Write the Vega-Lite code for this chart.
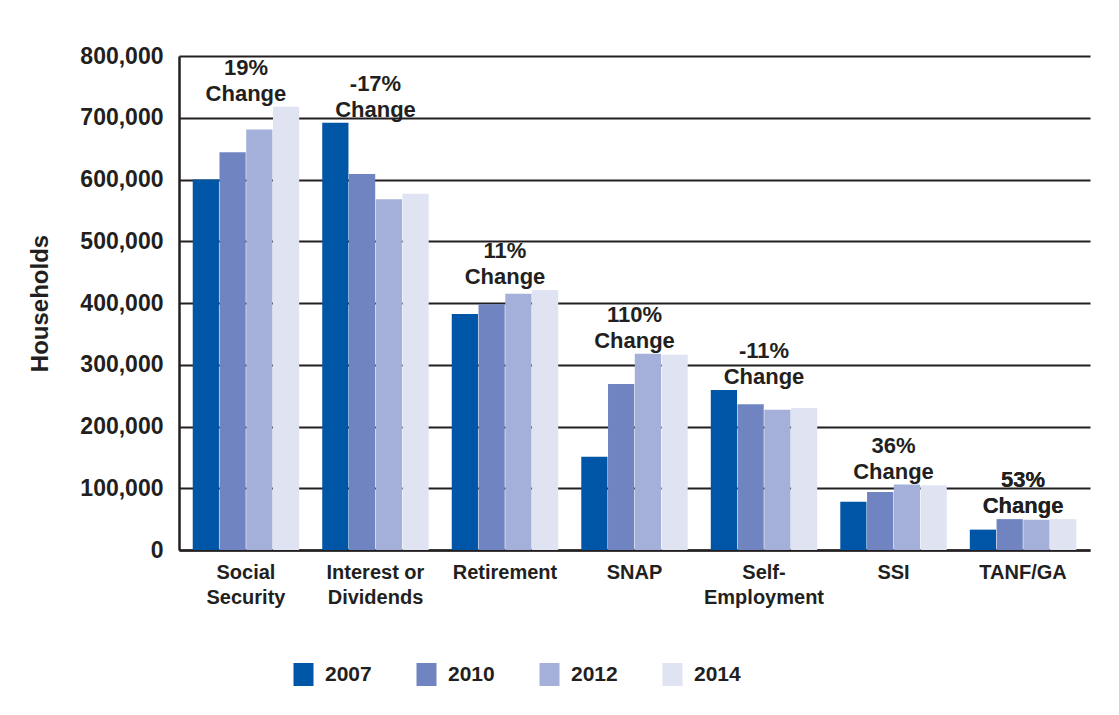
{
  "$schema": "https://vega.github.io/schema/vega-lite/v6.json",
  "width": 911,
  "height": 494,
  "autosize": {"type": "none"},
  "padding": {"left": 179, "top": 56, "right": 29, "bottom": 165},
  "background": "white",
  "config": {
    "font": "Liberation Sans",
    "view": {"stroke": null},
    "text": {"font": "Liberation Sans"}
  },
  "datasets": {
    "bars": [
      {"category": "Social Security", "year": "2007", "value": 600000},
      {"category": "Social Security", "year": "2010", "value": 644000},
      {"category": "Social Security", "year": "2012", "value": 681000},
      {"category": "Social Security", "year": "2014", "value": 718000},
      {"category": "Interest or Dividends", "year": "2007", "value": 692000},
      {"category": "Interest or Dividends", "year": "2010", "value": 609000},
      {"category": "Interest or Dividends", "year": "2012", "value": 568000},
      {"category": "Interest or Dividends", "year": "2014", "value": 577000},
      {"category": "Retirement", "year": "2007", "value": 382000},
      {"category": "Retirement", "year": "2010", "value": 398000},
      {"category": "Retirement", "year": "2012", "value": 415000},
      {"category": "Retirement", "year": "2014", "value": 421000},
      {"category": "SNAP", "year": "2007", "value": 151000},
      {"category": "SNAP", "year": "2010", "value": 269000},
      {"category": "SNAP", "year": "2012", "value": 318000},
      {"category": "SNAP", "year": "2014", "value": 316000},
      {"category": "Self-Employment", "year": "2007", "value": 259000},
      {"category": "Self-Employment", "year": "2010", "value": 236000},
      {"category": "Self-Employment", "year": "2012", "value": 227000},
      {"category": "Self-Employment", "year": "2014", "value": 230000},
      {"category": "SSI", "year": "2007", "value": 78000},
      {"category": "SSI", "year": "2010", "value": 94000},
      {"category": "SSI", "year": "2012", "value": 106000},
      {"category": "SSI", "year": "2014", "value": 105000},
      {"category": "TANF/GA", "year": "2007", "value": 33000},
      {"category": "TANF/GA", "year": "2010", "value": 50000},
      {"category": "TANF/GA", "year": "2012", "value": 49000},
      {"category": "TANF/GA", "year": "2014", "value": 50000}
    ],
    "labels": [
      {"category": "Social Security", "label": "19%\nChange"},
      {"category": "Interest or Dividends", "label": "-17%\nChange"},
      {"category": "Retirement", "label": "11%\nChange"},
      {"category": "SNAP", "label": "110%\nChange"},
      {"category": "Self-Employment", "label": "-11%\nChange"},
      {"category": "SSI", "label": "36%\nChange"},
      {"category": "TANF/GA", "label": "53%\nChange"}
    ]
  },
  "data": {"name": "bars"},
  "encoding": {
    "x": {
      "field": "category",
      "type": "nominal",
      "sort": null,
      "scale": {"paddingInner": 0.178, "paddingOuter": 0.106},
      "axis": {
        "title": null,
        "labelAngle": 0,
        "ticks": false,
        "domainColor": "#231f20",
        "domainWidth": 2.5,
        "labelFontSize": 20,
        "labelFontWeight": "bold",
        "labelColor": "#231f20",
        "labelPadding": 12,
        "labelLineHeight": 25,
        "labelExpr": "datum.label == 'Social Security' ? ['Social', 'Security'] : datum.label == 'Interest or Dividends' ? ['Interest or', 'Dividends'] : datum.label == 'Self-Employment' ? ['Self-', 'Employment'] : datum.label"
      }
    },
    "y": {
      "field": "value",
      "type": "quantitative",
      "scale": {"domain": [0, 800000], "nice": false},
      "axis": {
        "title": "Households",
        "values": [0, 100000, 200000, 300000, 400000, 500000, 600000, 700000, 800000],
        "format": ",d",
        "ticks": false,
        "grid": true,
        "gridColor": "#231f20",
        "gridWidth": 1.8,
        "gridOpacity": 1,
        "domainColor": "#231f20",
        "domainWidth": 2.5,
        "labelFontSize": 23,
        "labelFontWeight": "bold",
        "labelColor": "#231f20",
        "labelPadding": 16,
        "titleFontSize": 24,
        "titleFontWeight": "bold",
        "titleColor": "#231f20",
        "titlePadding": 27
      }
    }
  },
  "layer": [
    {
      "mark": {"type": "bar"},
      "encoding": {
        "xOffset": {"field": "year", "type": "nominal", "scale": {"paddingInner": 0.02}},
        "color": {
          "field": "year",
          "type": "nominal",
          "scale": {
            "domain": ["2007", "2010", "2012", "2014"],
            "range": ["#0056a6", "#7084c2", "#a4b0d9", "#e0e3f2"]
          },
          "legend": {
            "title": null,
            "orient": "none",
            "legendX": 113,
            "legendY": 607,
            "direction": "horizontal",
            "columns": 4,
            "columnPadding": 43,
            "padding": 0,
            "symbolType": "M-0.87,-1H0.87V1H-0.87Z",
            "symbolSize": 529,
            "symbolStrokeWidth": 0,
            "symbolOpacity": 1,
            "labelFontSize": 21,
            "labelFontWeight": "bold",
            "labelColor": "#231f20",
            "labelOffset": 10
          }
        }
      }
    },
    {
      "transform": [
        {"joinaggregate": [{"op": "max", "field": "value", "as": "maxValue"}], "groupby": ["category"]},
        {"filter": "datum.value == datum.maxValue"},
        {"lookup": "category", "from": {"data": {"name": "labels"}, "key": "category", "fields": ["label"]}}
      ],
      "mark": {
        "type": "text",
        "baseline": "bottom",
        "align": "center",
        "fontSize": 22,
        "fontWeight": "bold",
        "color": "#231f20",
        "lineBreak": "\n",
        "lineHeight": 26,
        "dy": -27
      },
      "encoding": {
        "text": {"field": "label"}
      }
    }
  ]
}
